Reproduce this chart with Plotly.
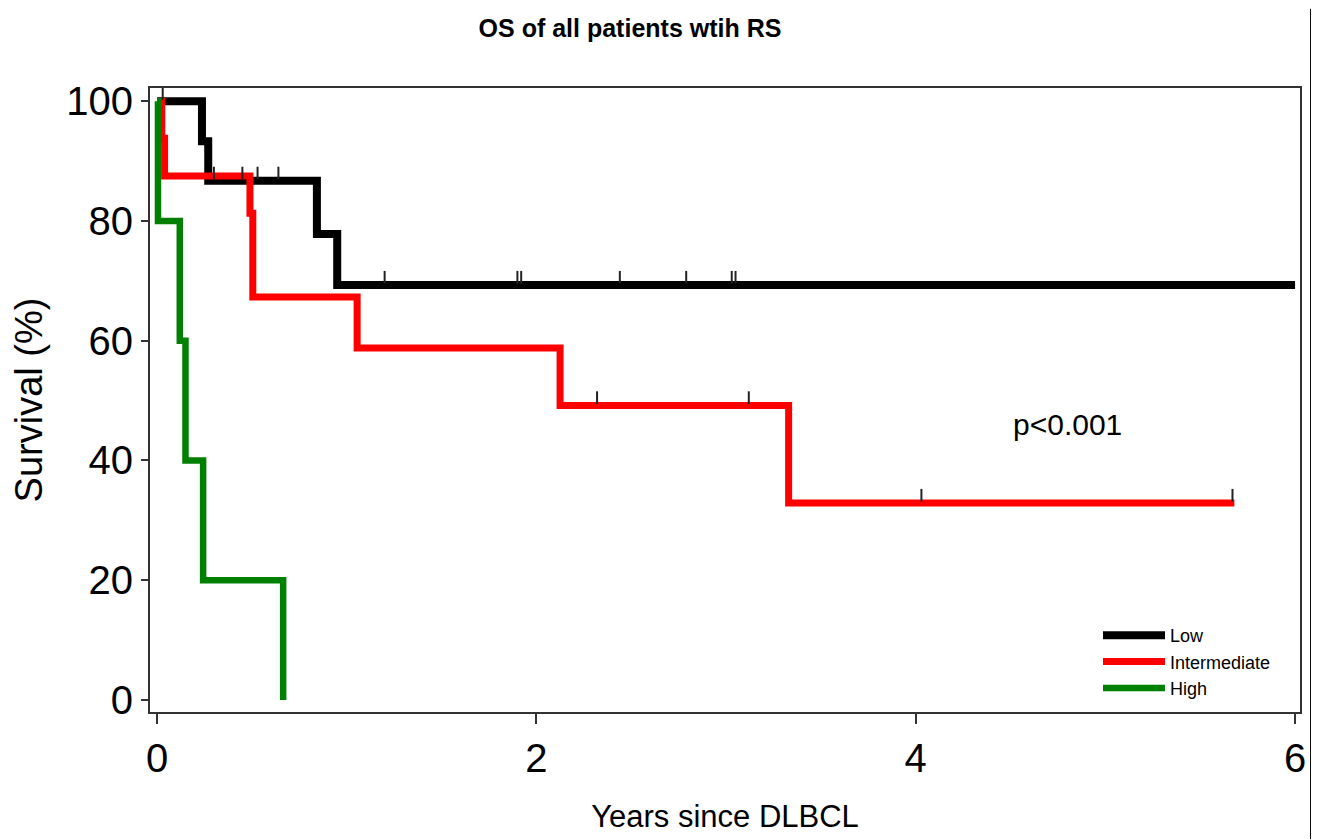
import plotly.graph_objects as go

# ---------------- data ----------------
low_t = [0, 0.237, 0.27, 0.843, 0.95, 6.0]
low_s = [100, 93.3, 86.7, 77.8, 69.3, 69.3]
low_cens_t = [0.03, 0.30, 0.45, 0.53, 0.64, 1.20, 1.90, 1.92, 2.44, 2.79, 3.03, 3.05]
low_cens_s = [100, 86.7, 86.7, 86.7, 86.7, 69.3, 69.3, 69.3, 69.3, 69.3, 69.3, 69.3]

int_t = [0, 0.025, 0.04, 0.49, 0.505, 1.055, 2.125, 3.33, 5.68]
int_s = [100, 93.8, 87.5, 81.3, 67.3, 58.8, 49.2, 32.9, 32.9]
int_cens_t = [2.32, 3.12, 4.03, 5.67]
int_cens_s = [49.2, 49.2, 32.9, 32.9]

high_t = [0, 0.005, 0.12, 0.15, 0.243, 0.665]
high_s = [100, 80, 60, 40, 20, 0]

x_ticks = [0, 2, 4, 6]
y_ticks = [0, 20, 40, 60, 80, 100]

title_text = "OS of all patients wtih RS"
x_title = "Years since DLBCL"
y_title = "Survival (%)"
p_text = "p<0.001"

# ---------------- style ----------------
REG = "Liberation Sans, Arial, sans-serif"
CENS_OFF = 1.3  # lift of censor ticks above line centre (in % units)
OFF = 8         # page body offset
W, H = 1319 - OFF, 840 - OFF

fig = go.Figure()
fig.add_trace(go.Scatter(x=low_t, y=low_s, mode="lines", line_shape="hv",
                         line=dict(color="#000000", width=8), name="Low"))
fig.add_trace(go.Scatter(x=int_t, y=int_s, mode="lines", line_shape="hv",
                         line=dict(color="#ff0000", width=7), name="Intermediate"))
fig.add_trace(go.Scatter(x=high_t, y=high_s, mode="lines", line_shape="hv",
                         line=dict(color="#008000", width=6.5), name="High"))

cens_x = low_cens_t + int_cens_t
cens_y = [v + CENS_OFF for v in (low_cens_s + int_cens_s)]
fig.add_trace(go.Scatter(x=cens_x, y=cens_y, mode="markers", showlegend=False,
                         marker=dict(symbol="line-ns", size=9,
                                     line=dict(color="#222222", width=2))))

fig.add_annotation(x=4.8, y=46, text=p_text, showarrow=False,
                   font=dict(family=REG, size=30, color="#000000"))

# outer border line at the right edge of the figure (drawn as a thin filled strip)
bx0 = (1310 - 150) / 1150
bx1 = (1313 - 150) / 1150
fig.add_shape(type="rect", xref="paper", yref="paper", layer="above",
              x0=bx0, x1=bx1, y0=-0.204, y1=1.127,
              fillcolor="#111111", line=dict(width=0))

fig.update_layout(
    width=W, height=H,
    margin=dict(l=150 - OFF, r=19, t=88 - OFF, b=128, autoexpand=False),
    paper_bgcolor="white", plot_bgcolor="white",
    title=dict(text=title_text, x=(630 - OFF) / W, xref="container", xanchor="center",
               y=1 - (28 - OFF) / H, yref="container", yanchor="middle",
               font=dict(family=REG, size=25, color="#000000", weight="bold")),
    showlegend=True,
    legend=dict(x=(1098 - 150) / 1150, y=(712 - 617) / 624, xanchor="left", yanchor="top",
                bgcolor="rgba(0,0,0,0)", font=dict(family=REG, size=18, color="#000000"),
                tracegroupgap=0, itemwidth=62),
    xaxis=dict(range=[-0.037, 6.026], tickvals=x_ticks, ticktext=[str(v) for v in x_ticks],
               showgrid=False, zeroline=False, showline=True, mirror=True,
               linecolor="#333333", linewidth=2, ticks="outside", ticklen=10, tickwidth=2,
               tickcolor="#333333",
               tickfont=dict(family=REG, size=40, color="#000000"),
               title=dict(text=x_title, standoff=26,
                          font=dict(family=REG, size=31, color="#000000"))),
    yaxis=dict(range=[-2.0, 102.2], tickvals=y_ticks, ticktext=[str(v) for v in y_ticks],
               showgrid=False, zeroline=False, showline=True, mirror=True,
               linecolor="#333333", linewidth=2, ticks="outside", ticklen=7, tickwidth=2,
               tickcolor="#333333",
               tickfont=dict(family=REG, size=40, color="#000000"),
               title=dict(text=y_title, standoff=20,
                          font=dict(family=REG, size=38, color="#000000"))),
)

fig.write_html("out.html")
